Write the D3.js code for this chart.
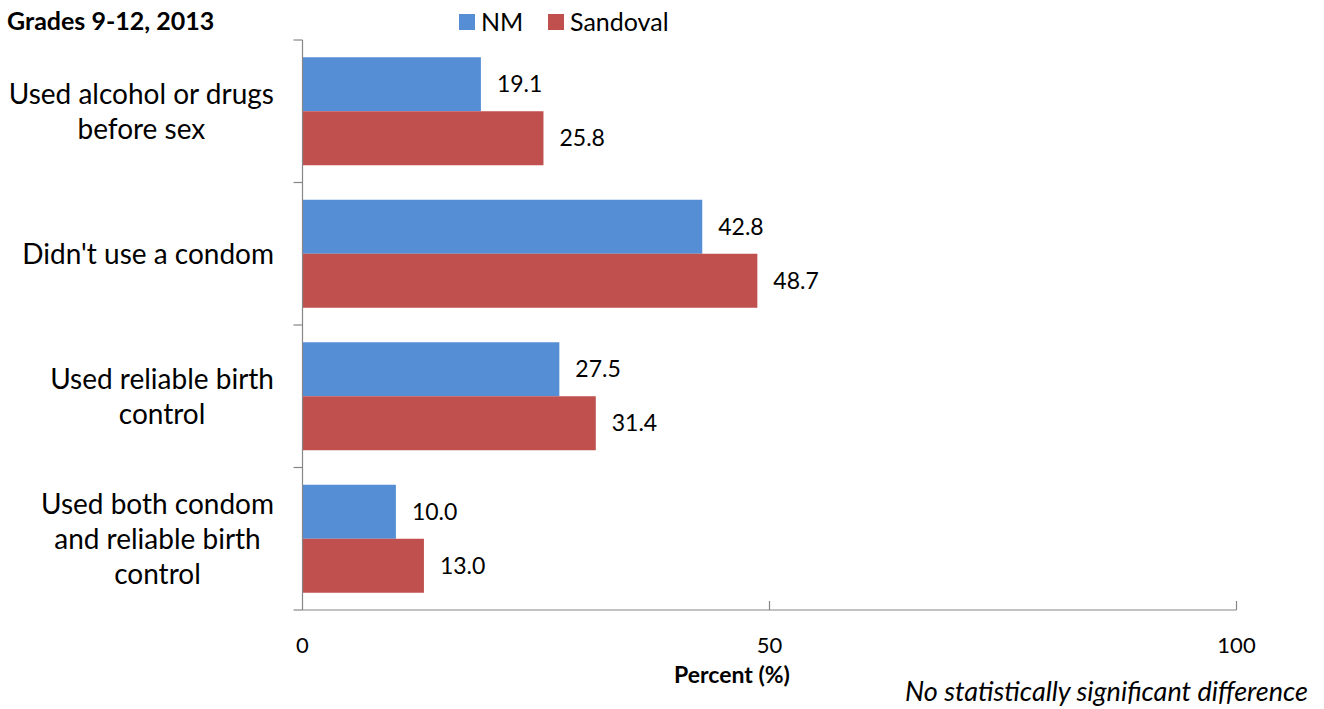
<!DOCTYPE html>
<html><head><meta charset="utf-8">
<script src="https://cdn.jsdelivr.net/npm/d3@7"></script>
<style>
body{margin:0;background:#fff;}
text{font-family:Lato,"Open Sans",sans-serif;fill:#000;}
</style></head>
<body><svg id="c" width="1324" height="709"></svg>
<script>
const categories = [
  ["Used alcohol or drugs","before sex"],
  ["Didn't use a condom"],
  ["Used reliable birth","control"],
  ["Used both condom","and reliable birth","control"]
];
const seriesNames = ["NM","Sandoval"];
const nmValues = [19.1, 42.8, 27.5, 10.0];
const sandovalValues = [25.8, 48.7, 31.4, 13.0];
const xTicks = [0, 50, 100];
const colors = ["#558ED5", "#C0504D"];

const svg = d3.select("#c");
const catIds = categories.map((c,i)=>i);
const x = d3.scaleLinear().domain([0,100]).range([302.5,1236.5]);
const y = d3.scaleBand().domain(catIds).range([40,610]).paddingInner(0).paddingOuter(0);
const inset = 17.25;
const ySub = d3.scaleBand().domain(seriesNames).range([0, y.bandwidth()-2*inset]);
const series = [nmValues, sandovalValues];

// bars
seriesNames.forEach((s,si)=>{
  const g = svg.append("g");
  g.selectAll("rect").data(series[si]).join("rect")
    .attr("x", x(0))
    .attr("y", (d,i)=>y(i)+inset+ySub(s))
    .attr("width", d=>x(d)-x(0))
    .attr("height", ySub.bandwidth())
    .attr("fill", colors[si]);
  g.selectAll("text").data(series[si]).join("text")
    .attr("x", d=>x(d)+16)
    .attr("y", (d,i)=>y(i)+inset+ySub(s)+ySub.bandwidth()/2)
    .attr("dy","0.35em")
    .style("font-size","23px")
    .text(d=>d.toFixed(1));
});

// y axis
const axisColor = "#868686";
svg.append("line").attr("x1",x(0)).attr("x2",x(0)).attr("y1",40).attr("y2",610)
  .attr("stroke",axisColor).attr("stroke-width",1.2);
const yTickPos = catIds.map(i=>y(i)).concat([610]);
svg.selectAll(".yt").data(yTickPos).join("line")
  .attr("x1",x(0)-9).attr("x2",x(0)).attr("y1",d=>d).attr("y2",d=>d)
  .attr("stroke",axisColor).attr("stroke-width",1.2);

// x axis
svg.append("line").attr("x1",x(0)).attr("x2",x(100)).attr("y1",610).attr("y2",610)
  .attr("stroke",axisColor).attr("stroke-width",1.2);
svg.selectAll(".xt").data(xTicks.slice(1)).join("line")
  .attr("x1",d=>x(d)).attr("x2",d=>x(d)).attr("y1",601).attr("y2",610)
  .attr("stroke",axisColor).attr("stroke-width",1.2);
svg.selectAll(".xl").data(xTicks).join("text")
  .attr("x",d=>x(d)).attr("y",645).attr("dy","0.35em")
  .attr("text-anchor","middle").style("font-size","22px").text(d=>d);

svg.append("text").attr("x",732).attr("y",675).attr("dy","0.35em")
  .attr("text-anchor","middle").style("font-size","23px").style("font-weight","bold")
  .text("Percent (%)");

svg.append("text").attr("x",1308).attr("y",692).attr("dy","0.35em")
  .attr("text-anchor","end").style("font-size","27px").style("font-style","italic")
  .text("No statistically significant difference");

// category labels
const lh = 35;
categories.forEach((lines,i)=>{
  const g = svg.append("g");
  const cy = y(i)+y.bandwidth()/2;
  const ts = lines.map((t,k)=>g.append("text")
    .attr("y", cy + (k-(lines.length-1)/2)*lh).attr("dy","0.35em")
    .attr("text-anchor","middle").style("font-size","28px").text(t));
  const maxW = d3.max(ts, t=>t.node().getComputedTextLength());
  ts.forEach(t=>t.attr("x", 274 - maxW/2));
});

// title
svg.append("text").attr("x",7).attr("y",21).attr("dy","0.35em")
  .style("font-size","25px").style("font-weight","bold").text("Grades 9-12, 2013");

// legend
const legX = [459, 548];
seriesNames.forEach((s,si)=>{
  svg.append("rect").attr("x",legX[si]).attr("y",14).attr("width",16).attr("height",16).attr("fill",colors[si]);
  svg.append("text").attr("x",legX[si]+22).attr("y",22).attr("dy","0.35em")
    .style("font-size","25px").text(s);
});
</script></body></html>
